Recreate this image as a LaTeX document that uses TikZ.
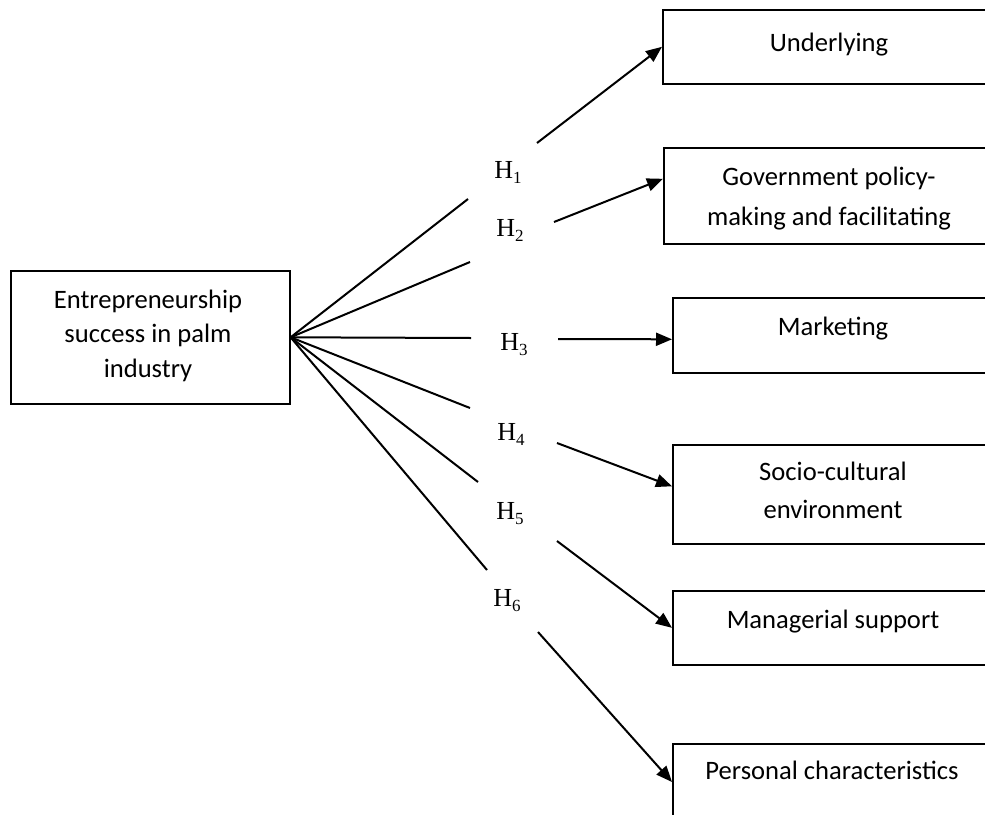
\documentclass[tikz,border=0pt]{standalone}
\usepackage{fontspec}
\setmainfont{Carlito}
\newfontfamily\timesfont{Liberation Serif}
\usetikzlibrary{arrows.meta}
\newcommand{\hlab}[1]{{\timesfont\fontsize{26}{26}\selectfont H\raisebox{-0.22em}{\fontsize{17}{17}\selectfont #1}}}

\begin{document}
\begin{tikzpicture}[x=1pt,y=-1pt,
  box/.style={draw,line width=1.6pt,rectangle,anchor=north west,inner sep=0pt},
  txt/.style={align=center,anchor=base,inner sep=0pt,font=\fontsize{26.6}{34.5}\selectfont},
  hyp/.style={anchor=base,inner sep=0pt},
  link/.style={line width=2pt},
  arr/.style={line width=2pt,-{Triangle[length=16pt,width=13pt]}}]
\useasboundingbox (0,0) rectangle (985,814);
\clip (0,0) rectangle (985,814);

% Left box
\node[box,minimum width=279pt,minimum height=133pt] (ent) at (10,270) {};
\node[txt] (enttxt) at (148,377) {Entrepreneurship\\success in palm\\industry};

% Right boxes (cut at the right edge)
\node[box,minimum width=500pt,minimum height=74pt] (und) at (662,9) {};
\node[box,minimum width=500pt,minimum height=96pt] (gov) at (663,147) {};
\node[box,minimum width=500pt,minimum height=75pt] (mkt) at (672,297) {};
\node[box,minimum width=500pt,minimum height=99pt] (soc) at (672,444) {};
\node[box,minimum width=500pt,minimum height=74pt] (mgr) at (672,590) {};
\node[box,minimum width=500pt,minimum height=100pt] (per) at (672,743) {};

% Box texts (base is the last line)
\node[txt] (undtxt) at (829,51) {Underlying};
\node[txt,font=\fontsize{26.6}{40}\selectfont] (govtxt) at (829,225) {Government policy-\\making and facilitating};
\node[txt] (mkttxt) at (833,335) {Marketing};
\node[txt,font=\fontsize{26.6}{38}\selectfont] (soctxt) at (833,518) {Socio-cultural\\environment};
\node[txt] (mgrtxt) at (833,628) {Managerial support};
\node[txt] (pertxt) at (832,779) {Personal characteristics};

% Hypothesis labels
\node[hyp] (hl1) at (508,178) {\hlab{1}};
\node[hyp] (hl2) at (510,236) {\hlab{2}};
\node[hyp] (hl3) at (514,350) {\hlab{3}};
\node[hyp] (hl4) at (511,440) {\hlab{4}};
\node[hyp] (hl5) at (510,519) {\hlab{5}};
\node[hyp] (hl6) at (507,606) {\hlab{6}};

% Break points of the connectors
\coordinate (h1a) at (468,199); \coordinate (h1b) at (537,143);
\coordinate (h2a) at (470,262); \coordinate (h2b) at (554,222);
\coordinate (h3a) at (471,338); \coordinate (h3b) at (558,339);
\coordinate (h4a) at (470,408); \coordinate (h4b) at (557,443);
\coordinate (h5a) at (478,482); \coordinate (h5b) at (557,541);
\coordinate (h6a) at (487,570); \coordinate (h6b) at (538,632);

% Lines from the left box
\foreach \i in {1,...,6} {
    \draw[link] (ent.east) -- (h\i a);
}

% Arrows into the right boxes
\draw[arr] (h1b) -- (und.west);
\draw[arr] (h2b) -- ([yshift=17pt]gov.west);
\draw[arr] (h3b) -- ([yshift=-4pt]mkt.west);
\draw[arr] (h4b) -- ([yshift=8pt]soc.west);
\draw[arr] (h5b) -- (mgr.west);
\draw[arr] (h6b) -- ([yshift=-39pt]per.north west);

\end{tikzpicture}
\end{document}
